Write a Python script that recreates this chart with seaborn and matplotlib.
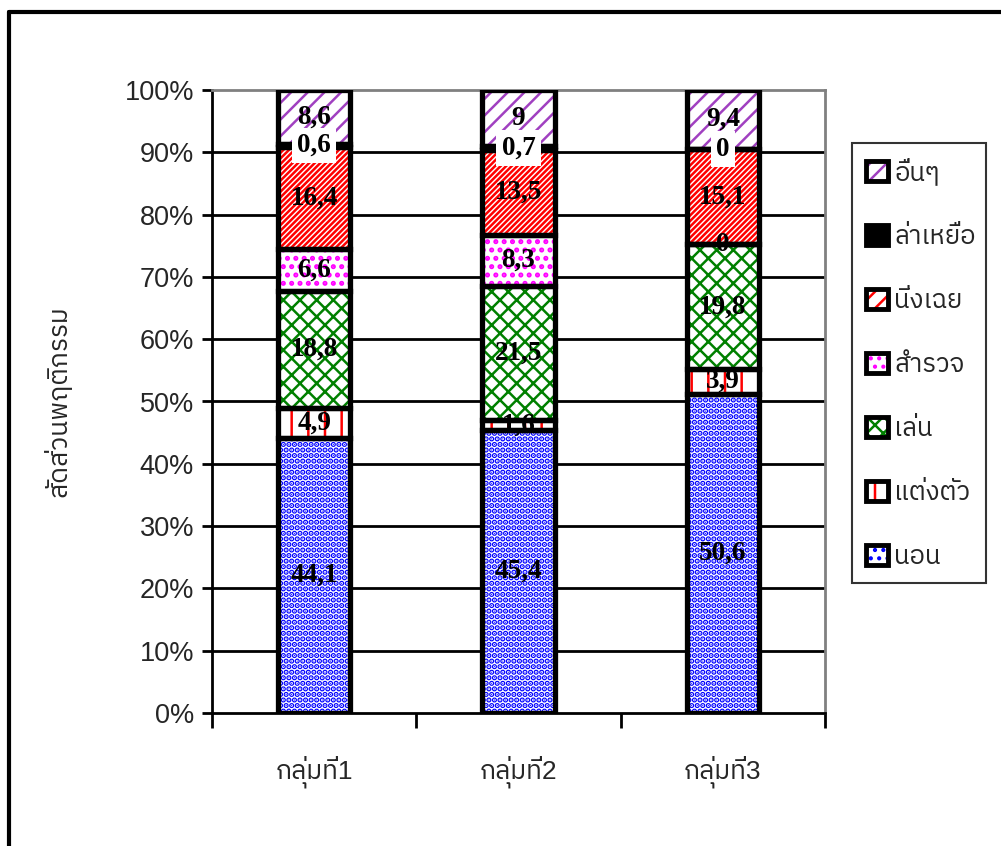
import numpy as np
import pandas as pd
import matplotlib
matplotlib.use("Agg")
import matplotlib.pyplot as plt
from matplotlib import font_manager
from matplotlib.ft2font import FT2Font
from matplotlib.patches import Patch, Rectangle
from matplotlib.lines import Line2D
import seaborn as sns

# ---- data -------------------------------------------------------------
groups = ["กลุ่มที่1", "กลุ่มที่2", "กลุ่มที่3"]
behaviours = ["นอน", "แต่งตัว", "เล่น", "สำรวจ", "นิ่งเฉย", "ล่าเหยื่อ", "อื่นๆ"]
sleep = [44.1, 45.4, 50.6]
groom = [4.9, 1.6, 3.9]
play = [18.8, 21.5, 19.8]
explore = [6.6, 8.3, 0.0]
idle = [16.4, 13.5, 15.1]
hunt = [0.6, 0.7, 0.0]
other = [8.6, 9.0, 9.4]
series_values = [sleep, groom, play, explore, idle, hunt, other]
y_ticks = [0, 10, 20, 30, 40, 50, 60, 70, 80, 90, 100]
y_title = "สัดส่วนพฤติกรรม"

# ---- styles -----------------------------------------------------------
hatch_colors = ["#0000ff", "#ff0000", "#008000", "#ff00ff", "#ff0000", "#000000", "#a040c0"]
hatches = ["...", "|", "xx", "..", "//////", None, "//"]
hatch_widths = [2.8, 1.8, 1.8, 2.4, 1.8, 1.8, 1.8]


def find_thai_font():
    preferred = []
    others = []
    for f in font_manager.fontManager.ttflist:
        try:
            cmap = FT2Font(f.fname).get_charmap()
        except Exception:
            continue
        if 0x0E01 in cmap:
            if "Sans" in f.name or "Loma" in f.name or "Garuda" in f.name:
                preferred.append(f.name)
            else:
                others.append(f.name)
    for lst in (preferred, others):
        if lst:
            return sorted(set(lst))[0]
    return None


thai = find_thai_font()
sans_family = ["Liberation Sans"] + ([thai] if thai else []) + ["DejaVu Sans"]

sns.set_theme(style="white")
plt.rcParams["font.family"] = sans_family
plt.rcParams["hatch.linewidth"] = 1.8

fig = plt.figure(figsize=(10.01, 8.46), dpi=100)
ax = fig.add_axes([212 / 1001, 1 - 713 / 846, 613 / 1001, 623 / 846])

# normalise to 100 % stacks
vals = np.array(series_values, dtype=float)
totals = vals.sum(axis=0)
pct = vals / totals * 100
bottoms = np.vstack([np.zeros(len(groups)), np.cumsum(pct, axis=0)[:-1]])

bar_width = 0.355
seg_patches = []
for i, name in enumerate(behaviours):
    df = pd.DataFrame({"group": groups, "pct": pct[i]})
    n_before = len(ax.patches)
    with plt.rc_context({"hatch.linewidth": hatch_widths[i]}):
        if hatches[i] is None:
            sns.barplot(data=df, x="group", y="pct", bottom=bottoms[i], ax=ax,
                        color=hatch_colors[i], width=bar_width, linewidth=0,
                        saturation=1, err_kws={"linewidth": 0}, zorder=2)
        else:
            sns.barplot(data=df, x="group", y="pct", bottom=bottoms[i], ax=ax,
                        color="white", edgecolor=hatch_colors[i], hatch=hatches[i],
                        width=bar_width, linewidth=0, saturation=1,
                        err_kws={"linewidth": 0}, zorder=2)
    seg_patches.append(ax.patches[n_before:])

# thick black outline around every segment
for plist in seg_patches:
    for p in plist:
        ax.add_patch(Rectangle(p.get_xy(), p.get_width(), p.get_height(),
                               fill=False, edgecolor="black", linewidth=3.8,
                               zorder=3))


def fmt(v):
    if float(v).is_integer():
        return f"{int(v)}"
    return f"{v:.1f}".replace(".", ",")


# value labels
for i, name in enumerate(behaviours):
    for j in range(len(groups)):
        yc = bottoms[i][j] + pct[i][j] / 2
        kw = {}
        if i == 5:
            kw["bbox"] = dict(boxstyle="square,pad=0.2", facecolor="white",
                              edgecolor="none")
        ax.text(j, yc, fmt(series_values[i][j]), ha="center", va="center",
                fontsize=19.5, fontweight="bold", family="Liberation Serif",
                color="black", zorder=5, **kw)

# axes styling
ax.set_xlim(-0.5, 2.5)
ax.set_ylim(0, 100)
ax.set_yticks(y_ticks)
ax.set_yticklabels([f"{t}%" for t in y_ticks], fontsize=19.5, family=sans_family)
ax.set_xticks([-0.5, 0.5, 1.5, 2.5])
ax.set_xticklabels([])
ax.tick_params(axis="x", direction="out", length=11, width=2, color="black",
               bottom=True)
ax.tick_params(axis="y", direction="out", length=7, width=2, color="black",
               left=True, pad=6)
for j, g in enumerate(groups):
    ax.text(j, -9.5, g, ha="center", va="center", fontsize=19,
            family=sans_family, transform=ax.transData)
ax.set_xlabel("")
ax.set_ylabel(y_title, fontsize=19, family=sans_family, labelpad=38)

for yv in y_ticks[1:-1]:
    ax.axhline(yv, color="black", linewidth=2, zorder=1)
ax.spines["left"].set_color("black")
ax.spines["left"].set_linewidth(2)
ax.spines["bottom"].set_color("black")
ax.spines["bottom"].set_linewidth(2)
ax.spines["top"].set_color("#808080")
ax.spines["top"].set_linewidth(2)
ax.spines["right"].set_color("#808080")
ax.spines["right"].set_linewidth(2)
for s in ax.spines.values():
    s.set_visible(True)
    s.set_zorder(1)
ax.grid(False)

# legend (top entry = last stacked series)
handles = []
for i in range(len(behaviours)):
    if hatches[i] is None:
        fill = Patch(facecolor=hatch_colors[i], edgecolor="black", linewidth=3.5)
        handles.append(fill)
    else:
        with plt.rc_context({"hatch.linewidth": hatch_widths[i]}):
            fill = Patch(facecolor="white", edgecolor=hatch_colors[i],
                         hatch=hatches[i][:2], linewidth=0)
        edge = Patch(facecolor="none", edgecolor="black", linewidth=3.5)
        handles.append((fill, edge))
leg = fig.legend(handles[::-1], behaviours[::-1], loc="upper left",
                 bbox_to_anchor=(852 / 1001, 1 - 588 / 846, 134 / 1001, 445 / 846),
                 bbox_transform=fig.transFigure, mode="expand",
                 prop={"family": sans_family, "size": 18.5},
                 frameon=True, fancybox=False, edgecolor="black",
                 handlelength=0.85, handleheight=0.85, handletextpad=0.25,
                 labelspacing=1.55, borderpad=0.55, borderaxespad=0)
leg.get_frame().set_linewidth(1.5)

# outer chart-area border (left and top edges)
fig.add_artist(Line2D([9 / 1001, 9 / 1001], [0, 1 - 12 / 846], color="black",
                      linewidth=3, transform=fig.transFigure))
fig.add_artist(Line2D([9 / 1001, 1], [1 - 12 / 846, 1 - 12 / 846], color="black",
                      linewidth=3, transform=fig.transFigure))

fig.savefig("out.png", dpi=100, facecolor="white")
